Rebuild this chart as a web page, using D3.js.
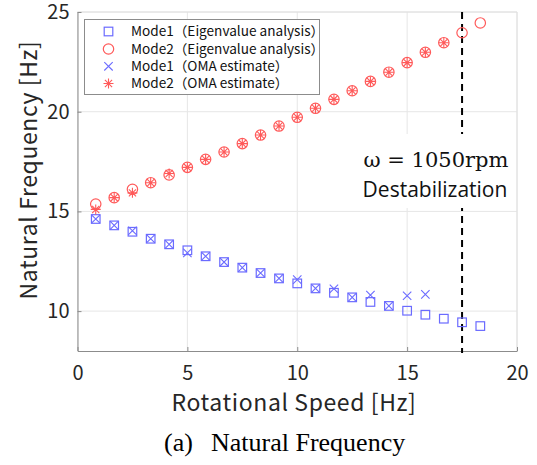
<!DOCTYPE html>
<html><head><meta charset="utf-8">
<script src="https://cdn.jsdelivr.net/npm/d3@7"></script>
<style>body{margin:0;background:#fff}svg{display:block}</style>
</head><body>
<svg id="c" width="537" height="465"></svg>
<script>
const speedHz = [0.83,1.67,2.5,3.33,4.17,5,5.83,6.67,7.5,8.33,9.17,10,10.83,11.67,12.5,13.33,14.17,15,15.83,16.67,17.5,18.33];
const mode1Eig = [14.62,14.30,13.98,13.63,13.35,13.05,12.75,12.46,12.18,11.91,11.64,11.39,11.14,10.92,10.69,10.46,10.26,10.02,9.82,9.62,9.44,9.25];
const mode2Eig = [15.37,15.69,16.11,16.44,16.83,17.21,17.61,17.98,18.40,18.83,19.28,19.72,20.17,20.62,21.05,21.52,21.98,22.46,22.98,23.46,23.96,24.45];
const mode1OMA = [14.62,14.30,14.03,13.63,13.35,12.92,12.75,12.46,12.18,11.91,11.64,11.58,11.14,11.12,10.69,10.80,10.26,10.77,10.84];
const mode2OMA = [15.10,15.69,15.93,16.44,16.90,17.21,17.61,17.98,18.40,18.83,19.28,19.72,20.17,20.62,21.05,21.52,21.98,22.46,22.98,23.46];
const xTicks = [0,5,10,15,20];
const yTicks = [10,15,20,25];
const legendLabels = ["Mode1（Eigenvalue analysis）","Mode2（Eigenvalue analysis）","Mode1（OMA estimate）","Mode2（OMA estimate）"];
const destabSpeed = 17.5;

const svg = d3.select("#c");
const x = d3.scaleLinear().domain([0,20]).range([77.5,517]);
const y = d3.scaleLinear().domain([8,25]).range([351,12]);
const blue = "#6b6bff", red = "#ff5a5a";
const tickFont = "'Noto Sans CJK JP', 'Noto Sans', sans-serif";

// grid
const g = svg.append("g");
g.selectAll(".gx").data(xTicks).join("line")
  .attr("x1",d=>x(d)).attr("x2",d=>x(d)).attr("y1",y(8)).attr("y2",y(25))
  .attr("stroke","#e6e6e6").attr("stroke-width",1);
g.selectAll(".gy").data(yTicks).join("line")
  .attr("x1",x(0)).attr("x2",x(20)).attr("y1",d=>y(d)).attr("y2",d=>y(d))
  .attr("stroke","#e6e6e6").attr("stroke-width",1);
svg.append("line").attr("x1",x(0)).attr("x2",x(20)).attr("y1",y(25)).attr("y2",y(25)).attr("stroke","#e0e0e0");
svg.append("line").attr("x1",x(20)).attr("x2",x(20)).attr("y1",y(25)).attr("y2",y(8)).attr("stroke","#e0e0e0");

// axes
const xAxis = d3.axisBottom(x).tickValues(xTicks).tickSizeInner(-4).tickSizeOuter(0).tickPadding(15);
const yAxis = d3.axisLeft(y).tickValues(yTicks).tickSizeInner(-4).tickSizeOuter(0).tickPadding(8);
const ax = svg.append("g").attr("transform",`translate(0,${y(8)})`).call(xAxis);
const ay = svg.append("g").attr("transform",`translate(${x(0)},0)`).call(yAxis);
[ax,ay].forEach(a=>{
  a.select(".domain").attr("stroke","#8c8c8c");
  a.selectAll(".tick line").attr("stroke","#8c8c8c");
  a.selectAll(".tick text").attr("fill","#262626").style("font-family",tickFont).style("font-size","20px");
});

// destabilization line
const dl = svg.append("g");
dl.append("line").attr("x1",x(destabSpeed)).attr("x2",x(destabSpeed)).attr("y1",y(25)).attr("y2",353)
  .attr("stroke","#000").attr("stroke-width",2).attr("stroke-dasharray","7,5");
dl.append("rect").attr("x",x(destabSpeed)-100).attr("y",134).attr("width",150).attr("height",74).attr("fill","#fff");

// markers
const pts = (vals)=>vals.map((v,i)=>({x:speedHz[i],y:v}));
svg.append("g").selectAll("rect").data(pts(mode1Eig)).join("rect")
  .attr("x",d=>x(d.x)-4.3).attr("y",d=>y(d.y)-4.3).attr("width",8.6).attr("height",8.6)
  .attr("fill","none").attr("stroke",blue).attr("stroke-width",1.2);
svg.append("g").selectAll("circle").data(pts(mode2Eig)).join("circle")
  .attr("cx",d=>x(d.x)).attr("cy",d=>y(d.y)).attr("r",5.2)
  .attr("fill","none").attr("stroke",red).attr("stroke-width",1.2);
const crossPath = s=>`M${-s},${-s}L${s},${s}M${-s},${s}L${s},${-s}`;
const starPath = s=>`M0,${-s}V${s}M${-s},0H${s}M${-s*0.72},${-s*0.72}L${s*0.72},${s*0.72}M${-s*0.72},${s*0.72}L${s*0.72},${-s*0.72}`;
svg.append("g").selectAll("path").data(pts(mode1OMA)).join("path")
  .attr("transform",d=>`translate(${x(d.x)},${y(d.y)})`).attr("d",crossPath(4.2))
  .attr("fill","none").attr("stroke",blue).attr("stroke-width",1.1);
svg.append("g").selectAll("path").data(pts(mode2OMA)).join("path")
  .attr("transform",d=>`translate(${x(d.x)},${y(d.y)})`).attr("d",starPath(5))
  .attr("fill","none").attr("stroke",red).attr("stroke-width",1.1);

// annotation
svg.append("text").attr("x",436).attr("y",167).attr("text-anchor","middle")
  .style("font-family","'DejaVu Serif', serif").style("font-size","21px").attr("fill","#111")
  .text("ω = 1050rpm");
svg.append("text").attr("x",435).attr("y",197).attr("text-anchor","middle")
  .style("font-family","'Open Sans', sans-serif").style("font-size","21px").attr("fill","#111")
  .text("Destabilization");

// legend
const lg = svg.append("g");
lg.append("rect").attr("x",84.5).attr("y",19.5).attr("width",235).attr("height",75)
  .attr("fill","#fff").attr("stroke","#8c8c8c").attr("stroke-width",1);
const ly = [31.5,49,66.3,83.5];
const lx = 108.5;
lg.append("rect").attr("x",lx-4.3).attr("y",ly[0]-4.3).attr("width",8.6).attr("height",8.6).attr("fill","none").attr("stroke",blue).attr("stroke-width",1.2);
lg.append("circle").attr("cx",lx).attr("cy",ly[1]).attr("r",5.2).attr("fill","none").attr("stroke",red).attr("stroke-width",1.2);
lg.append("path").attr("transform",`translate(${lx},${ly[2]})`).attr("d",crossPath(4.2)).attr("fill","none").attr("stroke",blue).attr("stroke-width",1.1);
lg.append("path").attr("transform",`translate(${lx},${ly[3]})`).attr("d",starPath(5)).attr("fill","none").attr("stroke",red).attr("stroke-width",1.1);
lg.selectAll("text.l").data(legendLabels).join("text")
  .attr("x",131).attr("y",(d,i)=>ly[i]).attr("dy","0.36em")
  .style("font-family",tickFont).style("font-size","13.6px").attr("fill","#111").text(d=>d);

// axis titles
svg.append("text").attr("x",294).attr("y",411).attr("text-anchor","middle")
  .style("font-family",tickFont).style("font-size","23px").style("letter-spacing","0.6px")
  .attr("fill","#262626").text("Rotational Speed [Hz]");
svg.append("text").attr("transform",`translate(37,170) rotate(-90)`).attr("text-anchor","middle")
  .style("font-family",tickFont).style("font-size","23px").style("letter-spacing","0.6px")
  .attr("fill","#262626").text("Natural Frequency [Hz]");

// caption
svg.append("text").attr("x",164).attr("y",451)
  .style("font-family","'Liberation Serif', serif").style("font-size","26px").attr("fill","#000").text("(a)");
svg.append("text").attr("x",211).attr("y",451)
  .style("font-family","'Liberation Serif', serif").style("font-size","26px").attr("fill","#000").text("Natural Frequency");
</script>
</body></html>
